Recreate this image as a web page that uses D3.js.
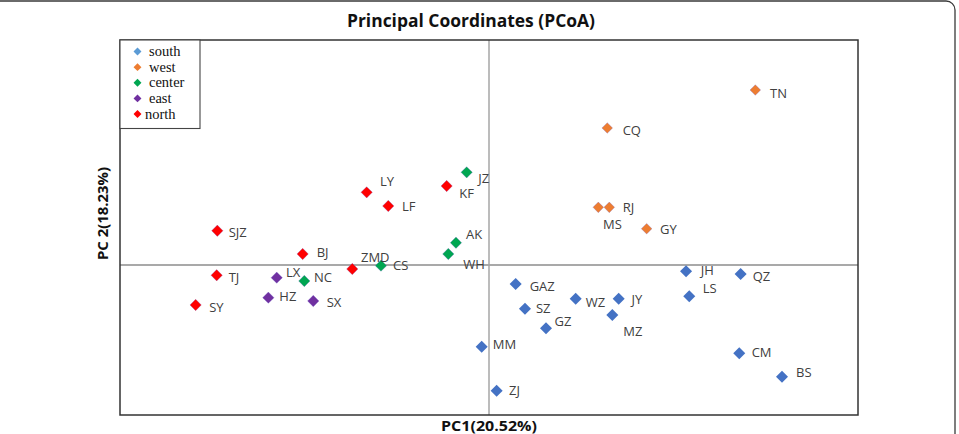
<!DOCTYPE html>
<html>
<head>
<meta charset="utf-8">
<script src="https://cdn.jsdelivr.net/npm/d3@7"></script>
<style>
  html, body { margin: 0; padding: 0; background: #fff; }
  svg { display: block; }
</style>
</head>
<body>
<svg id="chart" width="959" height="434"></svg>
<script>
// ---- data ----
const groups = ["south", "west", "center", "east", "north"];
const names = ["SJZ","BJ","TJ","SY","LY","LF","KF","ZMD",
               "LX","HZ","SX",
               "NC","CS","WH","AK","JZ",
               "TN","CQ","MS","RJ","GY",
               "JH","QZ","LS","GAZ","WZ","JY","SZ","MZ","GZ","MM","ZJ","CM","BS"];
const group = ["north","north","north","north","north","north","north","north",
               "east","east","east",
               "center","center","center","center","center",
               "west","west","west","west","west",
               "south","south","south","south","south","south","south","south","south","south","south","south","south"];
const pc1 = [-0.2945,-0.2020,-0.2952,-0.3180,-0.1326,-0.1092,-0.0459,-0.1482,
             -0.2301,-0.2392,-0.1905,
             -0.2002,-0.1171,-0.0441,-0.0358,-0.0242,
              0.2887, 0.1282, 0.1185, 0.1304, 0.1709,
              0.2136, 0.2728, 0.2171, 0.0289, 0.0940, 0.1406, 0.0390, 0.1337, 0.0618,-0.0079, 0.0083, 0.2713, 0.3176];
const pc2 = [ 0.0457, 0.0147,-0.0137,-0.0533, 0.0969, 0.0787, 0.1053,-0.0053,
             -0.0169,-0.0436,-0.0480,
             -0.0213,-0.0009, 0.0147, 0.0297, 0.1236,
              0.2333, 0.1827, 0.0769, 0.0769, 0.0484,
             -0.0084,-0.0120,-0.0417,-0.0253,-0.0449,-0.0449,-0.0583,-0.0667,-0.0844,-0.1089,-0.1676,-0.1177,-0.1489];
const titleText = "Principal Coordinates (PCoA)";
const xLabel = "PC1(20.52%)";
const yLabel = "PC 2(18.23%)";

// ---- styles / placement (kept apart from data) ----
const colors = {south:"#4472C4", west:"#ED7D31", center:"#00A651", east:"#7030A0", north:"#FF0000"};
const legendColors = {south:"#5B9BD5", west:"#ED7D31", center:"#00A651", east:"#7030A0", north:"#FF0000"};
const labelOffsets = {
  SJZ:[11.4,2], BJ:[14,-1.3], TJ:[12,2], SY:[13.6,2.3], LY:[13.3,-11.3], LF:[13.7,0], KF:[12.6,7.3], ZMD:[8.7,-12],
  LX:[9.3,-5.7], HZ:[11,-1.7], SX:[13.4,1],
  NC:[9.7,-3.7], CS:[12,0], WH:[15,10.3], AK:[10,-8.7], JZ:[11.6,5.6],
  TN:[14.7,3], CQ:[15.4,2.7], MS:[4.7,16.7], RJ:[13.4,0], GY:[13.3,0.3],
  JH:[14.7,-1.3], QZ:[12,2], LS:[13.4,-8.3], GAZ:[14,2.5], WZ:[10,3.3], JY:[12.7,0.3], SZ:[11,0], MZ:[11,16],
  GZ:[8.6,-6.6], MM:[11,-2.7], ZJ:[12.3,0], CM:[12.4,-0.6], BS:[14,-4]
};

const svg = d3.select("#chart");
const plot = {left:120, right:858, top:40, bottom:415};

const x = d3.scaleLinear().domain([-0.4, 0.4]).range([plot.left, plot.right]);
const y = d3.scaleLinear().domain([-0.2, 0.3]).range([plot.bottom, plot.top]);

// outer frame
svg.append("rect").attr("x", -10).attr("y", 1).attr("width", 965).attr("height", 500)
  .attr("rx", 9).attr("fill", "none").attr("stroke", "#3a3a3a").attr("stroke-width", 1.3);

// title
svg.append("text").attr("x", 471).attr("y", 27).attr("text-anchor", "middle")
  .attr("font-family", "'Open Sans', sans-serif").attr("font-weight", "bold").attr("font-size", 17)
  .attr("fill", "#111").attr("textLength", 248).attr("lengthAdjust", "spacingAndGlyphs")
  .text(titleText);

// zero lines
svg.append("line").attr("x1", plot.left).attr("x2", plot.right).attr("y1", y(0)).attr("y2", y(0))
  .attr("stroke", "#8c8c8c").attr("stroke-width", 1.3);
svg.append("line").attr("x1", x(0)).attr("x2", x(0)).attr("y1", plot.top).attr("y2", plot.bottom)
  .attr("stroke", "#a6a6a6").attr("stroke-width", 1.5);

// plot border
svg.append("rect").attr("x", plot.left).attr("y", plot.top)
  .attr("width", plot.right - plot.left).attr("height", plot.bottom - plot.top)
  .attr("fill", "none").attr("stroke", "#333").attr("stroke-width", 1.5);

// axis labels
svg.append("text").attr("x", x(0)).attr("y", 431).attr("text-anchor", "middle")
  .attr("font-family", "'Open Sans', sans-serif").attr("font-weight", "bold").attr("font-size", 13.5)
  .attr("fill", "#111").attr("textLength", 96).attr("lengthAdjust", "spacingAndGlyphs").text(xLabel);
svg.append("text").attr("transform", "translate(108,213.5) rotate(-90)").attr("text-anchor", "middle")
  .attr("font-family", "'Open Sans', sans-serif").attr("font-weight", "bold").attr("font-size", 14)
  .attr("fill", "#111").attr("textLength", 93).attr("lengthAdjust", "spacingAndGlyphs").text(yLabel);

// points
const pts = names.map((n, i) => ({name:n, g:group[i], x:pc1[i], y:pc2[i]}));
const diamond = d3.symbol().type(d3.symbolDiamond2);

const gp = svg.append("g");
gp.selectAll("path").data(pts).join("path")
  .attr("transform", d => `translate(${x(d.x)},${y(d.y)})`)
  .attr("d", d => diamond.size(d.g === "south" ? 92 : d.g === "west" ? 72 : 82)())
  .attr("fill", d => colors[d.g])
  .attr("stroke", d => d.g === "south" ? "none" : "#6a5acd")
  .attr("stroke-opacity", 0.35)
  .attr("stroke-width", 0.8);

gp.selectAll("text").data(pts).join("text")
  .attr("x", d => x(d.x) + labelOffsets[d.name][0])
  .attr("y", d => y(d.y) + labelOffsets[d.name][1])
  .attr("dy", "0.36em")
  .attr("font-family", "'Open Sans', sans-serif").attr("font-size", 13)
  .attr("fill", "#404040")
  .text(d => d.name);

// legend
const lg = svg.append("g");
lg.append("rect").attr("x", plot.left).attr("y", plot.top).attr("width", 80).attr("height", 88.5)
  .attr("fill", "#fff").attr("stroke", "#444").attr("stroke-width", 1.1);
const legendY = d3.scalePoint().domain(groups).range([51.5, 114]);
lg.selectAll("path").data(groups).join("path")
  .attr("transform", g => `translate(137.5,${legendY(g)})`)
  .attr("d", diamond.size(40)())
  .attr("fill", g => legendColors[g]);
lg.selectAll("text").data(groups).join("text")
  .attr("x", g => g === "north" ? 145 : 149).attr("y", g => legendY(g)).attr("dy", "0.32em")
  .attr("font-family", "'Liberation Serif', 'Times New Roman', serif").attr("font-size", 14.5)
  .attr("fill", "#111")
  .text(g => g);
</script>
</body>
</html>
